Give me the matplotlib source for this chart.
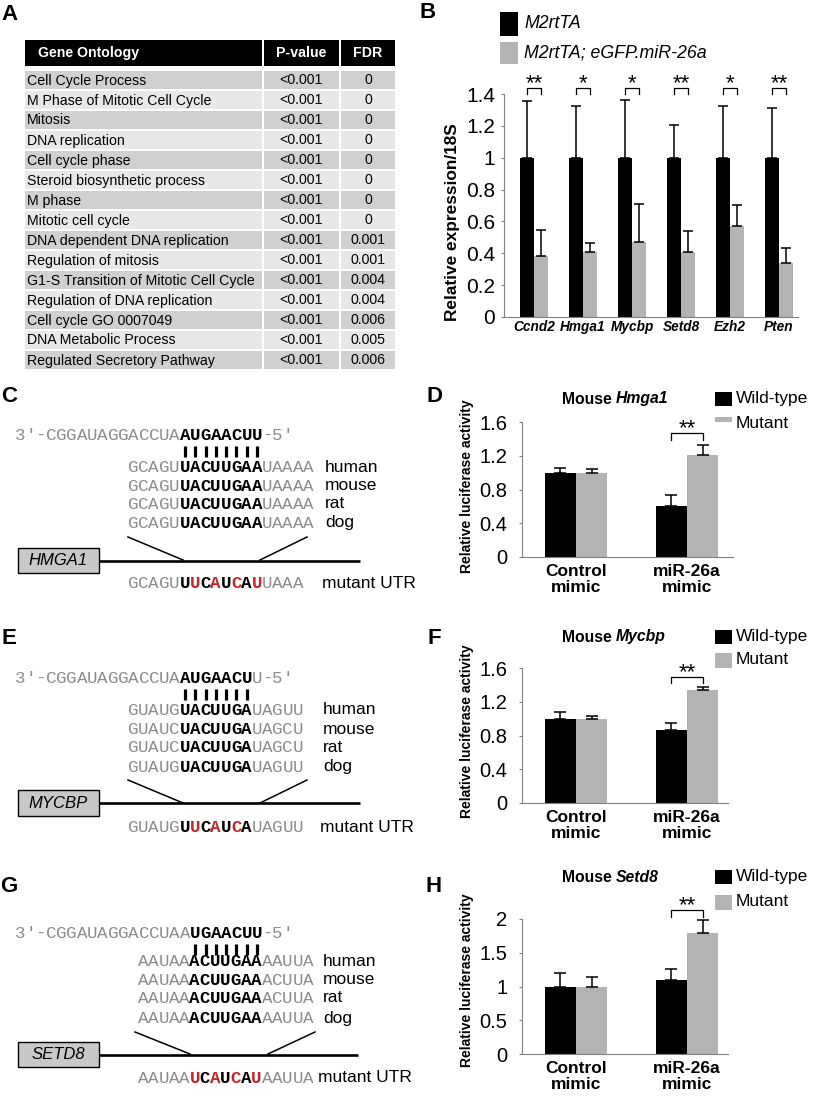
import matplotlib
matplotlib.use("Agg")
import matplotlib.pyplot as plt
from matplotlib.patches import Rectangle
import numpy as np

plt.rcParams['font.family'] = ['Liberation Sans', 'DejaVu Sans']
MONO = ['Liberation Mono', 'DejaVu Sans Mono']

W, H = 815, 1098
GRAY = '#b3b3b3'
SEQ_COL = {'g': '#8c8c8c', 'k': 'black', 'r': '#c1272d'}

# ---- panel A: gene ontology table
go_terms = ["Cell Cycle Process", "M Phase of Mitotic Cell Cycle", "Mitosis",
            "DNA replication", "Cell cycle phase", "Steroid biosynthetic process",
            "M phase", "Mitotic cell cycle", "DNA dependent DNA replication",
            "Regulation of mitosis", "G1-S Transition of Mitotic Cell Cycle",
            "Regulation of DNA replication", "Cell cycle GO 0007049",
            "DNA Metabolic Process", "Regulated Secretory Pathway"]
go_pval = ["<0.001"] * 15
go_fdr = ["0", "0", "0", "0", "0", "0", "0", "0", "0.001", "0.001",
          "0.004", "0.004", "0.006", "0.005", "0.006"]

# ---- panel B: qPCR
b_genes = ["Ccnd2", "Hmga1", "Mycbp", "Setd8", "Ezh2", "Pten"]
b_ctrl = [1.0, 1.0, 1.0, 1.0, 1.0, 1.0]
b_ctrl_err = [0.355, 0.325, 0.36, 0.205, 0.325, 0.31]
b_mir = [0.38, 0.405, 0.47, 0.405, 0.57, 0.34]
b_mir_err = [0.165, 0.06, 0.24, 0.135, 0.135, 0.095]
b_stars = ["**", "*", "*", "**", "*", "**"]

# ---- panels D, F, H: luciferase
luc_groups = ["Control\nmimic", "miR-26a\nmimic"]
hmga1_wt, hmga1_wt_err = [1.0, 0.61], [0.06, 0.12]
hmga1_mut, hmga1_mut_err = [1.0, 1.21], [0.04, 0.12]
mycbp_wt, mycbp_wt_err = [1.0, 0.87], [0.08, 0.08]
mycbp_mut, mycbp_mut_err = [1.0, 1.34], [0.03, 0.035]
setd8_wt, setd8_wt_err = [1.0, 1.09], [0.2, 0.17]
setd8_mut, setd8_mut_err = [1.0, 1.8], [0.14, 0.19]

# ---- panels C, E, G: sequences (mask: g=gray, k=black bold, r=red bold)
species = ["human", "mouse", "rat", "dog"]
hmga1_mirna = "3′-CGGAUAGGACCUAAUGAACUU-5′"
hmga1_mirna_mask = "g" * 16 + "k" * 8 + "g" * 3
hmga1_targets = ["GCAGUUACUUGAAUAAAA"] * 4
hmga1_target_mask = "g" * 5 + "k" * 8 + "g" * 5
hmga1_mutant = "GCAGUUUCAUCAUUAAA"
hmga1_mutant_mask = "g" * 5 + "krkrkrkr" + "g" * 4

mycbp_mirna = "3′-CGGAUAGGACCUAAUGAACUU-5′"
mycbp_mirna_mask = "g" * 16 + "k" * 7 + "g" * 4
mycbp_targets = ["GUAUGUACUUGAUAGUU", "GUAUCUACUUGAUAGCU",
                 "GUAUCUACUUGAUAGCU", "GUAUGUACUUGAUAGUU"]
mycbp_target_mask = "g" * 5 + "k" * 7 + "g" * 5
mycbp_mutant = "GUAUGUUCAUCAUAGUU"
mycbp_mutant_mask = "g" * 5 + "krkrkrk" + "g" * 5

setd8_mirna = "3′-CGGAUAGGACCUAAUGAACUU-5′"
setd8_mirna_mask = "g" * 17 + "k" * 7 + "g" * 3
setd8_targets = ["AAUAAACUUGAAAAUUA", "AAUAAACUUGAAACUUA",
                 "AAUAAACUUGAAACUUA", "AAUAAACUUGAAAAUUA"]
setd8_target_mask = "g" * 5 + "k" * 7 + "g" * 5
setd8_mutant = "AAUAAUCAUCAUAAUUA"
setd8_mutant_mask = "g" * 5 + "rkrkrkr" + "g" * 5

fig = plt.figure(figsize=(W / 100, H / 100), dpi=100)
ax0 = fig.add_axes([0, 0, 1, 1])
ax0.set_xlim(0, W)
ax0.set_ylim(H, 0)
ax0.axis('off')


def px_axes(left, top, right, bottom):
    return fig.add_axes([left / W, 1 - bottom / H, (right - left) / W, (bottom - top) / H])


# panel letters
for letter, (lx, ly) in zip("ABCDEFGH", [(9, 15), (428, 12), (9, 397), (435, 396),
                                          (9, 638), (434, 638), (9, 887), (434, 887)]):
    ax0.text(lx, ly, letter, fontsize=16, weight='bold', ha='center', va='center')

# ---- A table
cols = [(25, 262), (264, 339), (341, 395)]
for (c0, c1) in cols:
    ax0.add_patch(Rectangle((c0, 40), c1 - c0, 26, color='black', lw=0))
ax0.text(38, 53, "Gene Ontology", color='white', weight='bold', fontsize=10.2, va='center')
ax0.text(301, 53, "P-value", color='white', weight='bold', fontsize=10.2, va='center', ha='center')
ax0.text(368, 53, "FDR", color='white', weight='bold', fontsize=10.2, va='center', ha='center')
for i, (term, p, f) in enumerate(zip(go_terms, go_pval, go_fdr)):
    top = 71 + 20 * i
    fc = '#d0d0d0' if i % 2 == 0 else '#e8e8e8'
    for (c0, c1) in cols:
        ax0.add_patch(Rectangle((c0, top), c1 - c0, 18, color=fc, lw=0))
    yc = top + 9.5
    ax0.text(27, yc, term, fontsize=10.2, va='center')
    ax0.text(301, yc, p, fontsize=10.2, va='center', ha='center')
    ax0.text(368, yc, f, fontsize=10.2, va='center', ha='center')

# ---- B
ax0.add_patch(Rectangle((500, 12), 18, 24, color='black', lw=0))
ax0.add_patch(Rectangle((500, 42), 18, 22, color=GRAY, lw=0))
ax0.text(524, 24, "M2rtTA", fontsize=12.8, style='italic', va='center')
ax0.text(524, 53, "M2rtTA; eGFP.miR-26a", fontsize=12.8, style='italic', va='center')
ax0.text(453, 222, "Relative expression/18S", fontsize=12.4, weight='bold',
         rotation=90, ha='center', va='center')

ekw = dict(ecolor='black', capsize=3.6, elinewidth=1.1, capthick=1.1)
axb = px_axes(504, 94, 798, 317)
xb = np.arange(len(b_genes))
wb = 0.29
axb.bar(xb - wb / 2, b_ctrl, wb, color='black', yerr=[np.zeros(6), b_ctrl_err], error_kw=ekw)
axb.bar(xb + wb / 2, b_mir, wb, color=GRAY, yerr=[np.zeros(6), b_mir_err], error_kw=ekw)
axb.set_xlim(-0.612, 5.388)
axb.set_ylim(0, 1.4)
axb.set_yticks([0, 0.2, 0.4, 0.6, 0.8, 1.0, 1.2, 1.4])
axb.set_yticklabels(["0", "0.2", "0.4", "0.6", "0.8", "1", "1.2", "1.4"], fontsize=15)
axb.set_xticks(xb)
axb.set_xticklabels(b_genes, fontsize=9.8, style='italic', weight='bold')
for i, s in enumerate(b_stars):
    axb.plot([i - wb / 2, i - wb / 2, i + wb / 2, i + wb / 2], [1.40, 1.44, 1.44, 1.40],
             color='black', lw=0.9, clip_on=False)
    axb.text(i, 1.43, s, ha='center', va='baseline', fontsize=16)


def style_axes(ax, ypad):
    for sp in ['top', 'right']:
        ax.spines[sp].set_visible(False)
    for sp in ['left', 'bottom']:
        ax.spines[sp].set_color('#808080')
        ax.spines[sp].set_linewidth(0.8)
    ax.tick_params(axis='y', length=2.5, width=0.8, color='#808080', pad=ypad)
    ax.tick_params(axis='x', length=0)


style_axes(axb, 4)
axb.tick_params(axis='x', pad=2)


# ---- D, F, H
def luc_panel(rect, gene, wt, wt_err, mut, mut_err, ymax, ticks, ticklabels,
              br, star_y, title_y, leg_y, label_y):
    ax = px_axes(*rect)
    x = np.arange(len(luc_groups))
    w = 0.28
    ekw2 = dict(ecolor='black', capsize=4.3, elinewidth=1.1, capthick=1.1)
    ax.bar(x - w / 2, wt, w, color='black', yerr=[np.zeros(2), wt_err], error_kw=ekw2)
    ax.bar(x + w / 2, mut, w, color=GRAY, yerr=[np.zeros(2), mut_err], error_kw=ekw2)
    ax.set_xlim(-0.486, (rect[2] - 576) / 111)
    ax.set_ylim(0, ymax)
    ax.set_yticks(ticks)
    ax.set_yticklabels(ticklabels, fontsize=14.5)
    ax.set_xticks(x)
    ax.set_xticklabels(luc_groups, fontsize=12.5, weight='bold', linespacing=1.1)
    style_axes(ax, 8)
    ax.tick_params(axis='x', pad=5)
    ax.plot([1 - w / 2, 1 - w / 2, 1 + w / 2, 1 + w / 2], [br[0], br[1], br[1], br[0]],
            color='black', lw=0.9, clip_on=False)
    ax.text(1, star_y, "**", ha='center', va='baseline', fontsize=16)
    ax0.text(562, title_y, "Mouse", fontsize=11.3, weight='bold', va='center')
    ax0.text(615.5, title_y, gene, fontsize=11.3, weight='bold', style='italic', va='center')
    ax0.add_patch(Rectangle((715, leg_y[0] - 7), 17, 14, color='black', lw=0))
    ax0.add_patch(Rectangle((715, leg_y[1] - 7.5), 17, 15, color=GRAY, lw=0))
    ax0.text(736, leg_y[0], "Wild-type", fontsize=12.5, va='center')
    ax0.text(736, leg_y[1], "Mutant", fontsize=12.5, va='center')
    ax0.text(467, label_y, "Relative luciferase activity", fontsize=10, weight='bold',
             rotation=90, ha='center', va='center')


luc_panel((522, 422, 733, 557), "Hmga1", hmga1_wt, hmga1_wt_err, hmga1_mut, hmga1_mut_err,
          1.6, [0, 0.4, 0.8, 1.2, 1.6], ["0", "0.4", "0.8", "1.2", "1.6"],
          (1.386, 1.47), 1.45, 399, (399, 424), 486)
luc_panel((522, 668, 728, 803), "Mycbp", mycbp_wt, mycbp_wt_err, mycbp_mut, mycbp_mut_err,
          1.6, [0, 0.4, 0.8, 1.2, 1.6], ["0", "0.4", "0.8", "1.2", "1.6"],
          (1.42, 1.49), 1.48, 637, (637, 660), 731)
luc_panel((522, 919, 728, 1054), "Setd8", setd8_wt, setd8_wt_err, setd8_mut, setd8_mut_err,
          2.0, [0, 0.5, 1, 1.5, 2], ["0", "0.5", "1", "1.5", "2"],
          (2.03, 2.13), 2.11, 878, (877, 902), 980)


# ---- C, E, G diagrams
PITCH = 10.3


def draw_seq(x0, y, seq, mask):
    for i, (ch, m) in enumerate(zip(seq, mask)):
        ax0.text(x0 + (i + 0.5) * PITCH, y + 5, ch, family=MONO, fontsize=12.6,
                 color=SEQ_COL[m], weight='normal' if m == 'g' else 'bold',
                 ha='center', va='baseline')


def diagram(gene, mirna, mirna_mask, targets, target_mask, mutant, mutant_mask,
            y_mir, y_targets, tx0, box, line_end, diag, y_mut, sp_x, mut_x):
    draw_seq(15, y_mir, mirna, mirna_mask)
    bx = [15 + (i + 0.5) * PITCH for i, m in enumerate(mirna_mask) if m == 'k']
    ax0.vlines(bx, y_mir + 11, y_mir + 22, color='black', lw=2.3)
    for y, t, sp in zip(y_targets, targets, species):
        draw_seq(tx0, y, t, target_mask)
        ax0.text(sp_x, y, sp, fontsize=12.5, va='center')
    b_top, b_bot = box
    ax0.add_patch(Rectangle((18, b_top), 81, b_bot - b_top, facecolor='#c8c8c8',
                            edgecolor='black', lw=1.0))
    ax0.text(58, (b_top + b_bot) / 2, gene, fontsize=12, style='italic', ha='center', va='center')
    yl = (b_top + b_bot) / 2
    ax0.plot([99, line_end], [yl, yl], color='black', lw=1.9, solid_capstyle='butt')
    for (x1, y1, x2, y2) in diag:
        ax0.plot([x1, x2], [y1, y2], color='black', lw=1.1)
    draw_seq(tx0, y_mut, mutant, mutant_mask)
    ax0.text(mut_x, y_mut, "mutant UTR", fontsize=12.5, va='center')


diagram("HMGA1", hmga1_mirna, hmga1_mirna_mask, hmga1_targets, hmga1_target_mask,
        hmga1_mutant, hmga1_mutant_mask, 435, [467, 486, 504, 523], 128, (548, 573), 360,
        [(128, 537, 183, 560), (307, 537, 260, 560)], 583, 325, 322)
diagram("MYCBP", mycbp_mirna, mycbp_mirna_mask, mycbp_targets, mycbp_target_mask,
        mycbp_mutant, mycbp_mutant_mask, 678, [710, 729, 747, 767], 128, (790, 816), 360,
        [(128, 780, 183, 803), (307, 780, 260, 803)], 827, 323, 320)
diagram("SETD8", setd8_mirna, setd8_mirna_mask, setd8_targets, setd8_target_mask,
        setd8_mutant, setd8_mutant_mask, 933, [961, 980, 998, 1018], 138, (1042, 1067), 358,
        [(135, 1032, 190, 1054), (315, 1032, 268, 1054)], 1078, 323, 318)

fig.savefig("out.png", dpi=100)
